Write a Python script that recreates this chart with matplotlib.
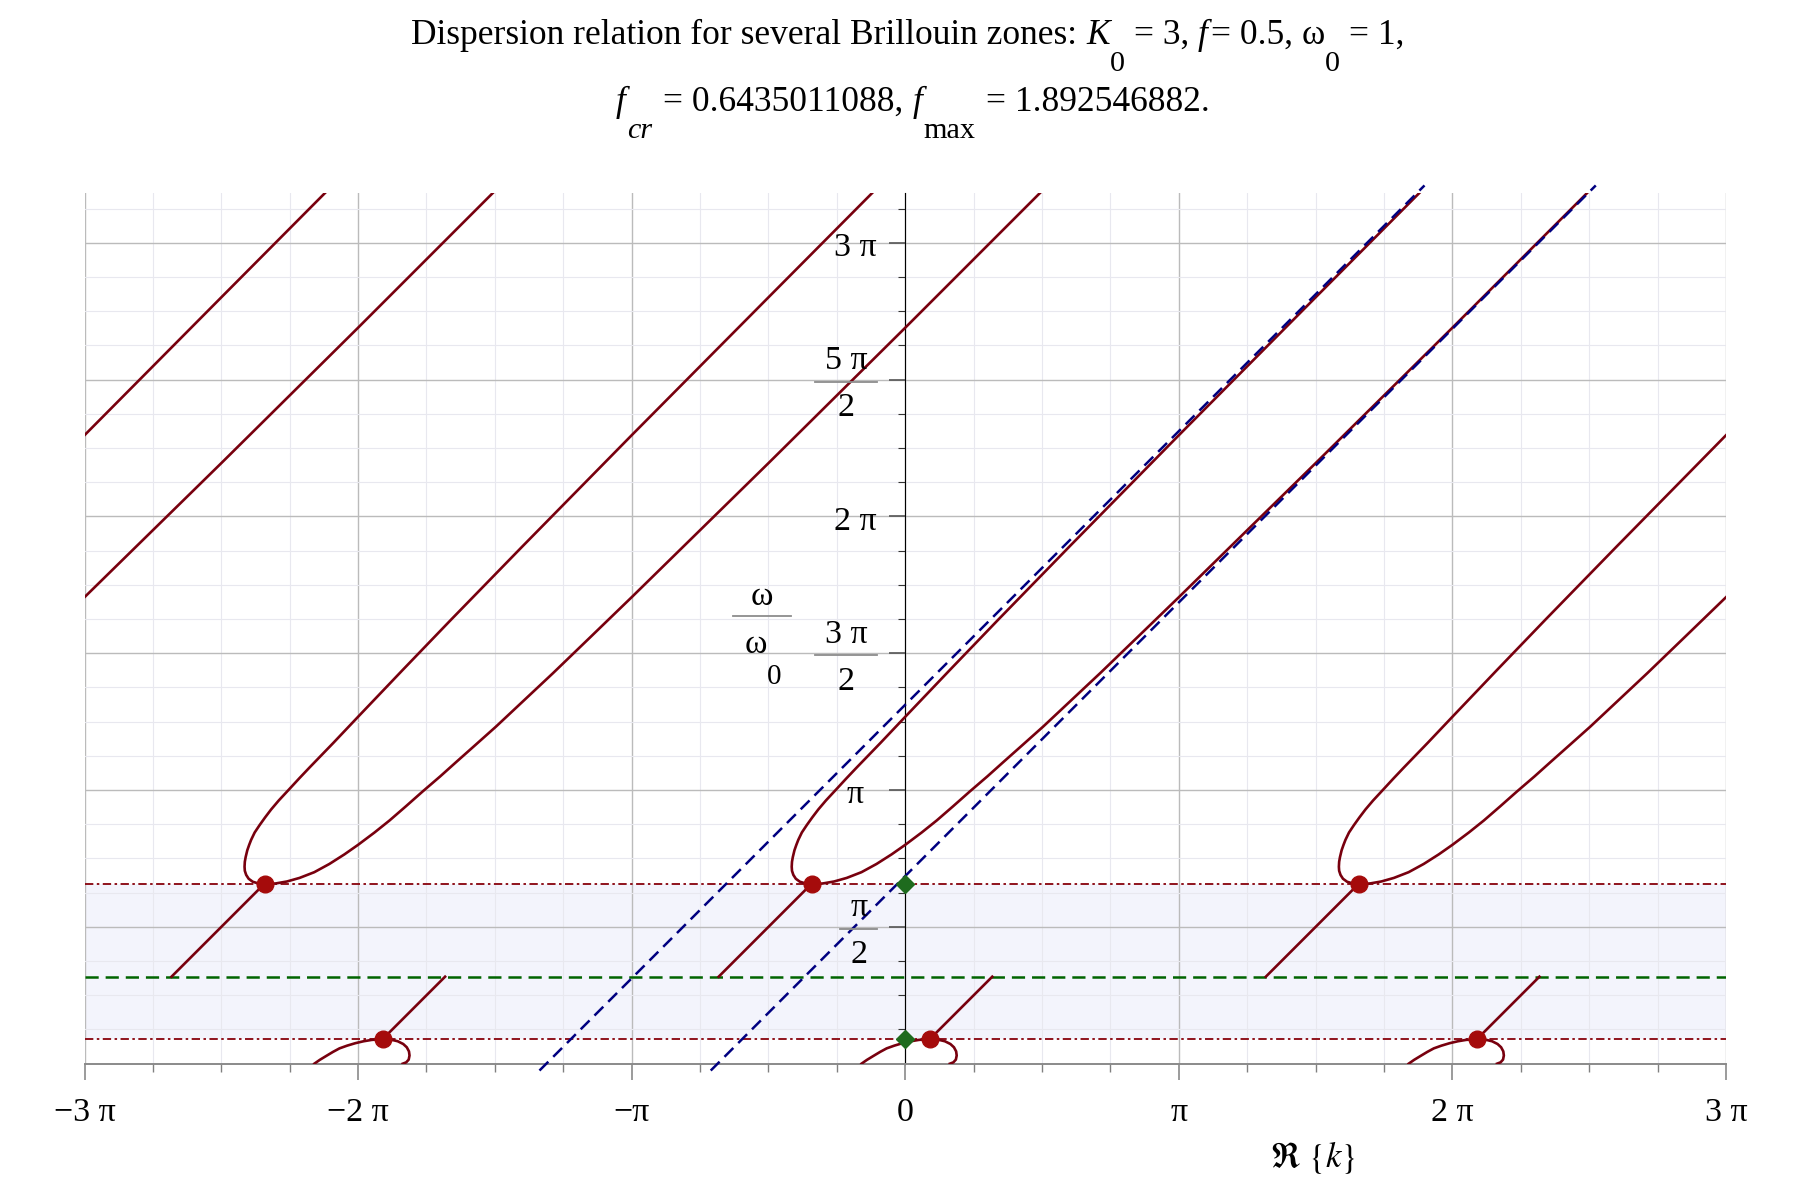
import numpy as np
import matplotlib
matplotlib.use('Agg')
import matplotlib.pyplot as plt
from matplotlib.lines import Line2D
from matplotlib.transforms import IdentityTransform

plt.rcParams['font.family'] = 'serif'
plt.rcParams['font.serif'] = ['Liberation Serif', 'DejaVu Serif']
plt.rcParams['mathtext.fontset'] = 'stix'
plt.rcParams['lines.scale_dashes'] = False

PI = np.pi

# Brillouin zone offsets (k / pi) of the repeated branches
zone_shift = [-4, -2, 0, 2]

# upper branch of the central zone (k/pi, omega/pi)
up_k = [1.995, 1.5, 1.0, 0.6, 0.34, 0.163, 0.0, -0.09, -0.178, -0.215, -0.251, -0.290,
        -0.318, -0.340, -0.360, -0.378, -0.391, -0.398, -0.405, -0.411, -0.414, -0.415,
        -0.414, -0.409, -0.400, -0.385, -0.365, -0.342,
        -0.320, -0.300, -0.260, -0.214, -0.160, -0.105, -0.050, 0.0, 0.060, 0.115,
        0.175, 0.236, 0.300, 0.358, 0.430, 0.504, 0.600, 0.712, 0.850, 1.0,
        1.5, 2.0, 2.61]
up_w = [3.299, 2.801, 2.297, 1.890, 1.623, 1.439, 1.268, 1.173, 1.082, 1.043, 1.004, 0.962,
        0.929, 0.900, 0.872, 0.845, 0.818, 0.800, 0.780, 0.755, 0.738, 0.720,
        0.705, 0.690, 0.676, 0.665, 0.659, 0.657,
        0.657, 0.659, 0.666, 0.679, 0.700, 0.730, 0.765, 0.800, 0.845, 0.889,
        0.941, 0.995, 1.050, 1.102, 1.166, 1.232, 1.322, 1.427, 1.560, 1.705,
        2.195, 2.690, 3.300]

# straight piece between omega0 and the upper band edge
seg_a_k = [-0.682, -0.343]
seg_a_w = [0.318, 0.657]
# straight piece between the lower band edge and omega0
seg_b_k = [0.090, 0.318]
seg_b_w = [0.090, 0.318]
# small loop under the lower band edge
loop_k = [-0.160, -0.140, -0.117, -0.092, -0.068, -0.040, -0.010, 0.020, 0.050, 0.090,
          0.120, 0.145, 0.165, 0.178, 0.186, 0.188, 0.185, 0.176, 0.163]
loop_w = [0.0, 0.014, 0.028, 0.043, 0.056, 0.066, 0.075, 0.082, 0.087, 0.090,
          0.088, 0.082, 0.072, 0.060, 0.045, 0.030, 0.015, 0.005, 0.0]

# branch points (k/pi) of the central zone
dot_up_k = -0.342
dot_lo_k = 0.090

# levels (omega / omega0)
w0 = 1.0
w_low = 0.284
w_high = 2.064

# asymptotes omega/pi = k/pi + c
asym_c = [1.312, 0.686]
asym_w = [-0.025, 3.21]

xt_vals = [-3, -2, -1, 0, 1, 2, 3]
xt_labels = ['\u22123 \u03c0', '\u22122 \u03c0', '\u2212\u03c0', '0', '\u03c0', '2 \u03c0', '3 \u03c0']
yt_vals = [0.5, 1.0, 1.5, 2.0, 2.5, 3.0]
yt_num = ['\u03c0', '\u03c0', '3 \u03c0', '2 \u03c0', '5 \u03c0', '3 \u03c0']
yt_den = ['2', '', '2', '', '2', '']

W, H = 1812, 1181
fig = plt.figure(figsize=(W / 100, H / 100), dpi=100)
ax = fig.add_axes([84.5 / W, 117.3 / H, 1641.5 / W, 870.9 / H])
ax.set_xlim(-3 * PI, 3 * PI)
ax.set_ylim(0, 10)

# shaded band between the two band edges
ax.axhspan(w_low, w_high, color='#F3F4FC', lw=0, zorder=0.2)

# horizontal level lines
ax.axhline(w_high, color='#8B0A14', lw=1.35, dashes=(6, 2.5, 1.8, 2.5), zorder=2)
ax.axhline(w_low, color='#8B0A14', lw=1.35, dashes=(6, 2.5, 1.8, 2.5), zorder=2)
ax.axhline(w0, color='#006400', lw=1.8, dashes=(9.5, 5), zorder=2)

red = '#78000E'
for s in zone_shift:
    ax.plot((np.array(up_k) + s) * PI, np.array(up_w) * PI, color=red, lw=1.9, zorder=3)
    ax.plot((np.array(seg_a_k) + s) * PI, np.array(seg_a_w) * PI, color=red, lw=1.9, zorder=3)
    ax.plot((np.array(seg_b_k) + s) * PI, np.array(seg_b_w) * PI, color=red, lw=1.9, zorder=3)
    ax.plot((np.array(loop_k) + s) * PI, np.array(loop_w) * PI, color=red, lw=1.9, zorder=3)
    ax.plot((dot_up_k + s) * PI, w_high, 'o', color='#A50B0B', ms=12, zorder=5)
    ax.plot((dot_lo_k + s) * PI, w_low, 'o', color='#A50B0B', ms=12, zorder=5)

# asymptotes of the central zone
for c in asym_c:
    ww = np.array(asym_w) * PI
    ax.plot(ww - c * PI, ww, color='#000080', lw=1.8, dashes=(9, 5), zorder=4, clip_on=False)

ax.plot([0, 0], [w_high, w_low], 'D', color='#1E6B1E', ms=9.5, zorder=6)

# axes style
for side in ['top', 'right']:
    ax.spines[side].set_visible(False)
ax.spines['left'].set_position(('data', 0))
ax.spines['left'].set_color('black')
ax.spines['left'].set_linewidth(0.8)
ax.spines['left'].set_zorder(2.5)
ax.spines['bottom'].set_color('#8A8A8A')
ax.spines['bottom'].set_linewidth(1.4)

ax.set_xticks(np.array(xt_vals) * PI)
ax.set_xticklabels(xt_labels)
ax.set_xticks(np.arange(-12, 13) * PI / 4, minor=True)
ax.set_yticks(np.array(yt_vals) * PI)
ax.set_yticks(np.arange(1, 26) * PI / 8, minor=True)
ax.tick_params(axis='x', which='major', direction='out', length=11.5, width=1.1,
               color='#808080', labelsize=24.5, pad=13)
ax.tick_params(axis='x', which='minor', direction='out', length=5.8, width=1.0, color='#808080')
ax.tick_params(axis='y', which='major', direction='out', length=11.5, width=1.2,
               color='#555555', labelleft=False)
ax.tick_params(axis='y', which='minor', direction='out', length=5, width=0.8, color='#333333')
ax.set_axisbelow(True)
ax.grid(which='major', color='#BBBBBB', lw=1.0)
ax.grid(which='minor', color='#E8E8EF', lw=0.8)

renderer = fig.canvas.get_renderer()
ident = IdentityTransform()

# y tick labels, Maple style fractions
ax_px = ax.transData.transform((0, 0))[0]
for v, num, den in zip(yt_vals, yt_num, yt_den):
    gy = ax.transData.transform((0, v * PI))[1]
    xr = ax_px - 28
    if den == '':
        fig.text(ax_px - 50, gy - 5, num, fontsize=24.5, ha='center', va='center', transform=ident)
    else:
        t = fig.text(0, 0, num, fontsize=24.5, ha='center', va='center', transform=ident)
        bw = t.get_window_extent(renderer).width + 20
        t.set_position((xr - bw / 2, gy + 19))
        fig.text(xr - bw / 2, gy - 28, den, fontsize=24.5, ha='center', va='center', transform=ident)
        fig.add_artist(Line2D([xr - bw, xr], [gy - 2, gy - 2], color='#8C8C8C', lw=1.3, transform=ident))

# y axis label omega / omega_0
fig.text(762, H - 597, '\u03c9', fontsize=24.5, ha='center', va='center', transform=ident)
fig.add_artist(Line2D([733, 791], [H - 616, H - 616], color='#8C8C8C', lw=1.3, transform=ident))
fig.text(756, H - 645, '\u03c9', fontsize=24.5, ha='center', va='center', transform=ident)
fig.text(774, H - 677, '0', fontsize=21, ha='center', va='center', transform=ident)

# x axis label
fig.text(1313, H - 1158, r'$\Re\ \{k\}$', fontsize=25, ha='center', va='center', transform=ident)


def text_line(pieces, base_y, center_x, size):
    arts = []
    x = 0.0
    for s, st, drop, fac, gap in pieces:
        x += gap * size * fac * 100 / 72
        t = fig.text(x, base_y - drop, s, fontsize=size * fac, style=st,
                     ha='left', va='baseline', transform=ident)
        x += t.get_window_extent(renderer).width
        arts.append(t)
    shift = center_x - x / 2
    for t in arts:
        px, py = t.get_position()
        t.set_position((px + shift, py))


line1 = [('Dispersion relation for several Brillouin zones:', 'normal', 0, 1, 0),
         ('K', 'italic', 0, 1, 0.25),
         ('0', 'normal', 27, 0.85, 0.0),
         ('= 3,', 'normal', 0, 1, 0.25),
         ('f', 'italic', 0, 1, 0.25),
         ('= 0.5,', 'normal', 0, 1, 0.1),
         ('\u03c9', 'normal', 0, 1, 0.25),
         ('0', 'normal', 27, 0.85, 0.0),
         ('= 1,', 'normal', 0, 1, 0.25)]
line2 = [('f', 'italic', 0, 1, 0),
         ('cr', 'italic', 27, 0.85, 0.05),
         ('= 0.6435011088,', 'normal', 0, 1, 0.3),
         ('f', 'italic', 0, 1, 0.25),
         ('max', 'normal', 27, 0.85, 0.05),
         ('= 1.892546882.', 'normal', 0, 1, 0.3)]
text_line(line1, H - 44, 908, 25.5)
text_line(line2, H - 111, 913, 25.5)

fig.savefig('out.png', dpi=100)
